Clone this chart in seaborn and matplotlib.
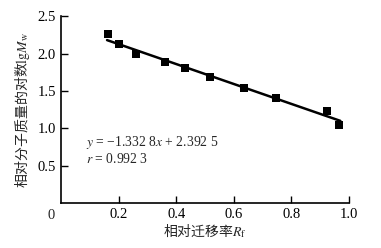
import matplotlib
matplotlib.use("Agg")
import matplotlib.pyplot as plt
import numpy as np
import pandas as pd
import seaborn as sns

# measured points
rf = [0.163, 0.20, 0.26, 0.36, 0.43, 0.517, 0.637, 0.745, 0.925, 0.966]
lg_mw = [2.26, 2.13, 2.00, 1.88, 1.80, 1.68, 1.54, 1.40, 1.23, 1.04]

# linear fit reported in the figure
slope = -1.3328
intercept = 2.3925
fit_range = [0.16, 0.97]

x_ticks = [0.2, 0.4, 0.6, 0.8, 1.0]
y_ticks = [0.5, 1.0, 1.5, 2.0, 2.5]

sns.set_style("ticks")
plt.rcParams["font.family"] = ["Liberation Serif", "Noto Sans CJK SC"]
plt.rcParams["mathtext.fontset"] = "stix"

df = pd.DataFrame({"rf": rf, "lg_mw": lg_mw})
fit = pd.DataFrame({"rf": fit_range})
fit["lg_mw"] = slope * fit["rf"] + intercept

fig = plt.figure(figsize=(3.81, 2.48), dpi=100)
ax = fig.add_axes([0.16, 0.181, 0.756, 0.754])

sns.lineplot(data=fit, x="rf", y="lg_mw", color="black", linewidth=1.8, ax=ax)
sns.scatterplot(data=df, x="rf", y="lg_mw", marker="s", s=38, color="black",
                edgecolor="black", linewidth=0, ax=ax, zorder=3)

ax.set_xlim(0, 1.0)
ax.set_ylim(0, 2.5)
ax.set_xticks(x_ticks)
ax.set_xticklabels([f"{v:.1f}" for v in x_ticks])
ax.set_yticks(y_ticks)
ax.set_yticklabels([f"{v:.1f}" for v in y_ticks])
ax.tick_params(direction="in", length=5, width=1, labelsize=10.5, colors="black")
ax.annotate("0", xy=(0, 0), xytext=(-7, -4), textcoords="offset points",
            ha="center", va="top", fontsize=10.5)

for s in ["top", "right"]:
    ax.spines[s].set_visible(False)
for s in ["left", "bottom"]:
    ax.spines[s].set_linewidth(1.2)
    ax.spines[s].set_color("black")

cjk = "Noto Sans CJK SC"
ax.set_xlabel(r"相对迁移率$R_{\rm f}$", fontsize=10, labelpad=1, fontfamily=cjk)
ax.set_ylabel(r"相对分子质量的对数$\mathrm{lg}M_{\rm w}$", fontsize=10,
              labelpad=4, fontfamily=cjk)

ax.text(0.088, 0.805, "$y$ = \u22121.332 8$x$ + 2.392 5", fontsize=9.8,
        va="center")
ax.text(0.088, 0.59, "$r$ = 0.992 3", fontsize=9.8, va="center")

fig.savefig("out.png", dpi=100)
